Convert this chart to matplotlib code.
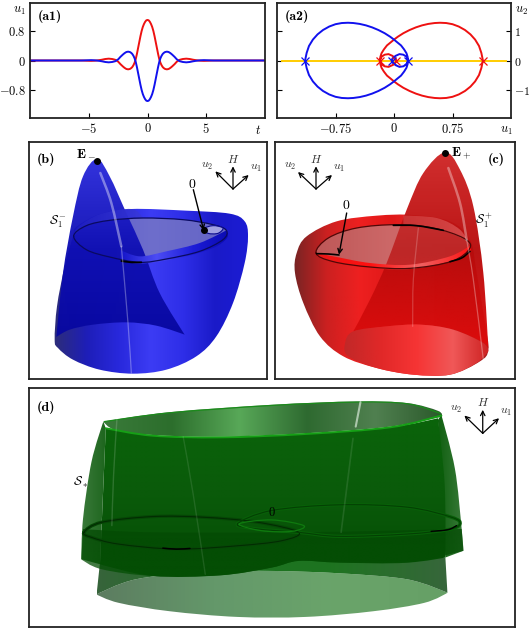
import numpy as np
import matplotlib
matplotlib.use('Agg')
import matplotlib.pyplot as plt
from matplotlib.colors import LinearSegmentedColormap
from matplotlib.path import Path
from matplotlib.patches import PathPatch

plt.rcParams['mathtext.fontset'] = 'cm'
plt.rcParams['font.family'] = 'cmr10'
plt.rcParams['axes.formatter.use_mathtext'] = True

W, H = 531, 628

# (a1) time series
t_right = [0, .1, .2, .3, .4, .5, .6, .7, .8, .9, 1.0, 1.1, 1.2, 1.3, 1.4, 1.5, 1.65, 1.8, 1.95, 2.1, 2.3, 2.5,
           2.75, 3.0, 3.3, 3.6, 3.9, 4.2, 4.5, 4.8, 5.2, 5.6, 10]
red_right = [1.10, 1.09, 1.05, .99, .91, .80, .66, .50, .34, .18, .04, -.06, -.13, -.18, -.21, -.23, -.24, -.23,
             -.20, -.16, -.10, -.03, .02, .04, .05, .04, .02, .005, -.005, -.01, -.005, 0, 0]
t = [-v for v in t_right[:0:-1]] + t_right
red_u1 = red_right[:0:-1] + red_right
blue_u1 = [-v for v in red_u1]

# (a2) phase plane, blue orbit; the red one is its mirror image
blue_x = [.18, .175, .16, .13, .09, .04, 0, -.05, -.12, -.20, -.28, -.36, -.44, -.52, -.59, -.67, -.75, -.83, -.91, -.98, -1.04,
          -1.09, -1.12, -1.14, -1.12, -1.09, -1.04, -.98, -.91, -.83, -.75, -.67, -.59, -.52, -.44, -.36, -.28, -.20, -.12,
          -.05, 0, .04, .09, .13, .16, .175, .18, .16, .12, .07, .02, -.02, -.03, -.02, .02, .07, .12, .16, .18]
blue_y = [0, .12, .25, .38, .52, .63, .72, .82, .94, 1.05, 1.14, 1.21, 1.26, 1.29, 1.30, 1.29, 1.25, 1.17, 1.05, .90, .72,
          .50, .26, 0, -.26, -.50, -.72, -.90, -1.05, -1.17, -1.25, -1.29, -1.30, -1.29, -1.26, -1.21, -1.14, -1.05, -.94,
          -.82, -.72, -.63, -.52, -.38, -.25, -.12, 0, -.13, -.20, -.22, -.16, -.07, 0, .07, .16, .22, .20, .13, 0]
red_x = [-v for v in blue_x]
red_y = blue_y
axis_x = [-1.44, 1.44]
axis_y = [0, 0]
blue_marks_x = [-1.14, -.03, .18]
red_marks_x = [1.14, .03, -.18]

# outlines of the 3D renderings; a third item marks a sharp corner
b_bowl = [(230, 262), (300, 224), (395, 208), (560, 213), (690, 222), (735, 245), (745, 290), (735, 370), (700, 490), (650, 590), (590, 650),
          (500, 690), (400, 702), (300, 690), (220, 660), (175, 625), (165, 600), (172, 500), (195, 380), (220, 290)]
b_peak = [(170, 592, 1), (190, 400), (220, 230), (250, 110), (292, 58), (330, 110), (380, 220), (430, 330), (480, 460), (555, 585, 1),
          (470, 558), (380, 548), (280, 555), (210, 570)]
b_disc = [(222, 290), (260, 258), (330, 242), (430, 235), (550, 240), (640, 255), (680, 272), (670, 295), (600, 325), (500, 350),
          (420, 365), (330, 350), (260, 330)]
b_back = [(222, 290, 1), (235, 262), (300, 224), (395, 208), (430, 235, 1), (330, 242), (260, 258)]
b_front = [(360, 330, 1), (420, 350), (500, 335), (600, 310), (680, 272, 1), (682, 295), (640, 325), (540, 355), (420, 372), (362, 360, 1)]
b_ring = [(222, 290), (260, 258), (330, 242), (430, 235), (550, 240), (640, 255), (680, 272), (670, 300), (600, 335), (500, 358),
          (420, 368), (330, 352), (260, 330)]
b_pocket = [(610, 268), (640, 258), (670, 265), (655, 281), (625, 281)]

c_bowl = [(80, 340), (110, 290), (200, 245), (320, 228), (430, 226), (540, 245), (600, 300), (620, 400), (645, 550), (655, 630), (630, 665),
          (540, 705), (430, 705), (320, 685), (220, 650), (150, 590), (100, 490), (75, 400)]
c_peak = [(250, 575, 1), (300, 480), (350, 370), (410, 210), (460, 100), (525, 38), (570, 90), (610, 200), (640, 400), (655, 630, 1),
          (640, 610), (550, 570), (450, 555), (350, 560)]
c_base = [(225, 612), (250, 575), (350, 560), (450, 555), (550, 570), (640, 610), (655, 635, 1), (620, 670), (540, 705), (430, 705),
          (320, 685), (235, 650)]
c_disc = [(140, 340), (175, 295), (260, 265), (380, 255), (490, 265), (580, 295), (595, 325), (540, 355), (420, 380), (300, 375), (200, 360)]
c_back = [(400, 228, 1), (500, 235), (570, 270), (600, 320, 1), (575, 295), (490, 265), (400, 255, 1)]
c_front = [(140, 340, 1), (200, 352), (300, 370), (420, 375), (540, 350), (600, 318, 1), (598, 340), (540, 365), (420, 388), (300, 385), (190, 368), (140, 350, 1)]
c_ring = [(138, 340), (175, 295), (260, 265), (380, 255), (490, 265), (580, 295), (600, 325), (545, 365), (420, 386), (300, 382), (190, 366)]

d_base = [(285, 625, 1), (400, 580), (600, 558), (800, 555), (1000, 562), (1200, 580), (1318, 620, 1), (1250, 650), (1100, 675), (900, 692),
          (700, 692), (500, 675), (350, 650)]
d_back = [(305, 110, 1), (500, 82), (800, 60), (1050, 50), (1200, 55), (1290, 78), (1302, 95, 1), (1150, 125), (900, 145), (650, 155), (450, 150), (340, 135)]
d_left = [(305, 110, 1), (312, 130, 1), (295, 535, 1), (240, 520, 1), (245, 400), (270, 230)]
d_right = [(1300, 90, 1), (1340, 250), (1360, 430), (1365, 495, 1), (1312, 515, 1), (1290, 105, 1)]
d_front = [(312, 130, 1), (450, 152), (650, 157), (900, 147), (1150, 127), (1290, 100, 1), (1310, 300), (1312, 515, 1), (1200, 530), (1000, 530),
           (880, 525), (800, 545), (650, 568), (450, 570), (295, 535, 1), (305, 300)]
d_skirt = [(295, 530, 1), (1312, 515, 1), (1318, 620, 1), (1200, 580), (1000, 562), (800, 555), (600, 558), (400, 580), (285, 625, 1)]
d_lobe = [(240, 520, 1), (245, 430, 1), (450, 440), (880, 440), (1360, 430, 1), (1365, 495, 1), (1200, 530), (1000, 530), (880, 525), (800, 545),
          (650, 568), (450, 570), (300, 550)]
d_ring_l = [(248, 440), (300, 410), (450, 393), (600, 395), (760, 410), (880, 440), (830, 465), (700, 480), (520, 490), (350, 475), (270, 455)]
d_ring_r = [(700, 415), (800, 375), (1000, 358), (1200, 365), (1330, 395), (1355, 415), (1320, 432), (1200, 445), (1000, 452), (880, 440), (760, 430)]
d_ring_c = [(705, 415), (800, 403), (895, 420), (860, 437), (770, 435)]


def make_path(pts, closed=True):
    # Catmull-Rom outline turned into cubic bezier pieces, flat tangents at flagged corners
    p = np.array([q[:2] for q in pts], float)
    sharp = [len(q) == 3 for q in pts]
    n = len(p)
    verts, codes = [p[0]], [Path.MOVETO]
    for i in range(n if closed else n - 1):
        j, k = (i + 1) % n, (i + 2) % n
        p0 = p[(i - 1) % n] if closed or i > 0 else p[i]
        p1, p2 = p[i], p[j]
        p3 = p[k] if closed or i + 2 < n else p2
        c1 = p1 if sharp[i] else p1 + (p2 - p0) / 6
        c2 = p2 if sharp[j] else p2 - (p3 - p1) / 6
        verts += [c1, c2, p2]
        codes += [Path.CURVE4] * 3
    return Path(verts, codes)


def blob(ax, pts, color, alpha=1, z=1):
    ax.add_patch(PathPatch(make_path(pts), fc=color, ec='none', alpha=alpha, zorder=z))


def grad(ax, pts, stops, alpha=1, z=1, vertical=False):
    path = make_path(pts)
    patch = PathPatch(path, fc='none', ec='none', transform=ax.transData)
    ax.add_patch(patch)
    x0, y0 = path.vertices.min(axis=0)
    x1, y1 = path.vertices.max(axis=0)
    g = np.linspace(0, 1, 256)
    g = g[:, None] if vertical else g[None, :]
    cmap = LinearSegmentedColormap.from_list('g', stops)
    im = ax.imshow(g, extent=(x0, x1, y1, y0), cmap=cmap, aspect='auto', alpha=alpha, zorder=z, interpolation='bilinear')
    im.set_clip_path(patch)


def line(ax, pts, color, lw=1, alpha=1, z=5, closed=False):
    ax.add_patch(PathPatch(make_path(pts, closed), fc='none', ec=color, lw=lw, alpha=alpha, zorder=z, capstyle='round'))


def compass(ax, cx, cy, tips, labels):
    for (x, y) in tips:
        ax.annotate('', xy=(x, y), xytext=(cx, cy), zorder=9,
                    arrowprops=dict(arrowstyle='->', lw=0.9, color='k', mutation_scale=8, shrinkA=0, shrinkB=0))
    for (x, y, s) in labels:
        ax.text(x, y, s, ha='center', va='center', fontsize=8.5, color='#333333', zorder=9)


def panel(x0, y0, x1, y1, xlim, ylim):
    ax = fig.add_axes([x0 / W, 1 - y1 / H, (x1 - x0) / W, (y1 - y0) / H])
    ax.set_xticks([])
    ax.set_yticks([])
    for s in ax.spines.values():
        s.set_linewidth(1.3)
        s.set_color('#222222')
    ax._lims = (xlim, ylim)
    return ax


def finish(ax):
    ax.set_xlim(*ax._lims[0])
    ax.set_ylim(*ax._lims[1])


def tag(ax, x, y, s):
    ax.text(x, y, s, family='cmb10', fontsize=10, ha='center', va='center', zorder=9)


fig = plt.figure(figsize=(W / 100, H / 100), dpi=100)

# ---- a1
ax = panel(30, 3, 265, 118, (-10, 10), (-1.56, 1.56))
ax.plot(t, red_u1, color='#ee1111', lw=1.4)
ax.plot(t, blue_u1, color='#1111ee', lw=1.4)
ax.set_xticks([-5, 0, 5], [r'$-5$', r'$0$', r'$5$'], fontsize=9)
ax.set_yticks([-.8, 0, .8], [r'$-0.8$', r'$0$', r'$0.8$'], fontsize=9)
ax.tick_params(direction='in', length=3.5, width=0.8, pad=3)
tag(ax, -8.3, 1.2, '(a1)')
fig.text(19 / W, 1 - 11 / H, r'$u_1$', fontsize=9, ha='center', va='center')
fig.text(258 / W, 1 - 131 / H, r'$t$', fontsize=9, ha='center', va='center')
finish(ax)

# ---- a2
ax = panel(277, 3, 511, 118, (-1.5, 1.5), (-1.98, 1.98))
ax.plot(axis_x, axis_y, color='#ffcc00', lw=1.4)
ax.plot(red_x, red_y, color='#ee1111', lw=1.4)
ax.plot(blue_x, blue_y, color='#1111ee', lw=1.4)
ax.plot(red_marks_x, [0] * 3, 'x', color='#ee1111', ms=5.5, mew=0.9)
ax.plot(blue_marks_x, [0] * 3, 'x', color='#1111ee', ms=5.5, mew=0.9)
ax.set_xticks([-.75, 0, .75], [r'$-0.75$', r'$0$', r'$0.75$'], fontsize=9)
ax.set_yticks([-1, 0, 1], [r'$-1$', r'$0$', r'$1$'], fontsize=8.5)
ax.tick_params(direction='in', length=3.5, width=0.8, pad=3)
ax.tick_params(axis='y', left=True, right=True, labelleft=False, labelright=True, pad=2)
tag(ax, -1.24, 1.51, '(a2)')
fig.text(522 / W, 1 - 11 / H, r'$u_2$', fontsize=9, ha='center', va='center')
fig.text(506 / W, 1 - 131 / H, r'$u_1$', fontsize=9, ha='center', va='center')
finish(ax)

# ---- b
ax = panel(29, 142, 267, 379, (88, 802), (718, 7))
grad(ax, b_bowl, ['#2d2d78', '#1e1eb8', '#2828dc', '#3c3cf4', '#2e2ee8', '#1a1ac8', '#1c1cd4'], z=1)
grad(ax, b_disc, ['#5a5ac8', '#6e6ecc', '#6464c4'], z=2)
grad(ax, b_peak, ['#2c2cdc', '#1010b4', '#0808a0'], alpha=.97, z=3, vertical=True)
grad(ax, b_back, ['#2020c0', '#3a3ad8'], alpha=.8, z=4)
grad(ax, b_front, ['#1414c8', '#4c4cf4', '#1c1cd8', '#0a0ab0'], z=4)
line(ax, b_ring, '#0a0a60', lw=0.9, z=5, closed=True)
line(ax, [(365, 364), (395, 368), (425, 368)], 'k', lw=1.3, z=5)
line(ax, [(302, 100), (335, 190), (365, 320)], 'white', lw=1.8, alpha=.4, z=6)
line(ax, [(365, 320), (385, 550), (395, 700)], 'white', lw=0.9, alpha=.3, z=6)
blob(ax, b_pocket, '#c8c8f4', alpha=.6, z=5)
line(ax, b_pocket, '#0a0a90', lw=0.8, z=5, closed=True)
ax.plot([292, 612], [63, 272], 'o', color='k', ms=4, zorder=8)
ax.annotate('', xy=(612, 272), xytext=(581, 150), zorder=9, arrowprops=dict(arrowstyle='->', lw=1, color='k', mutation_scale=8, shrinkA=0, shrinkB=0))
ax.text(578, 133, r'$\mathbf{0}$', fontsize=10, ha='center', va='center', zorder=9)
ax.text(260, 40, r'$\mathbf{E}_-$', fontsize=10, ha='center', va='center', zorder=9)
ax.text(175, 248, r'$\mathcal{S}_1^-$', fontsize=9, ha='center', va='center', zorder=9)
tag(ax, 138, 60, '(b)')
compass(ax, 700, 148, [(700, 80), (747, 106), (647, 95)], [(700, 58, r'$H$'), (768, 86, r'$u_1$'), (622, 80, r'$u_2$')])
finish(ax)

# ---- c
ax = panel(275, 142, 515, 379, (15, 735), (718, 7))
grad(ax, c_bowl, ['#782424', '#cc2020', '#ee2020', '#e01818', '#e83030', '#b81818', '#a82020'], z=1)
grad(ax, c_disc, ['#b85050', '#cc6666', '#c86060'], z=2)
grad(ax, c_peak, ['#d02828', '#b80c0c', '#e00c0c'], alpha=.97, z=3, vertical=True)
blob(ax, c_disc, '#d07070', alpha=.25, z=3.2)
grad(ax, c_base, ['#c02828', '#e02828', '#f63434', '#f05858', '#cc2020'], z=4)
grad(ax, c_back, ['#d04040', '#e06060'], alpha=.7, z=4)
grad(ax, c_front, ['#e81818', '#ff1010', '#f06060', '#ff1010'], z=4)
line(ax, c_ring, '#500808', lw=0.9, z=5, closed=True)
line(ax, [(370, 257), (440, 258), (520, 272)], 'k', lw=1.2, z=5)
line(ax, [(540, 366), (575, 355), (600, 335)], 'k', lw=1.2, z=5)
line(ax, [(140, 342), (175, 343), (207, 346)], 'k', lw=1.2, z=5)
line(ax, [(535, 85), (570, 190), (590, 300)], 'white', lw=1.8, alpha=.35, z=6)
line(ax, [(590, 300), (610, 420), (640, 660)], 'white', lw=0.9, alpha=.3, z=6)
line(ax, [(445, 265), (430, 420), (428, 560)], 'white', lw=0.9, alpha=.2, z=6)
ax.plot([525], [40], 'o', color='k', ms=4, zorder=8)
ax.annotate('', xy=(207, 345), xytext=(230, 220), zorder=9, arrowprops=dict(arrowstyle='->', lw=1, color='k', mutation_scale=8, shrinkA=0, shrinkB=0))
ax.text(229, 197, r'$\mathbf{0}$', fontsize=10, ha='center', va='center', zorder=9)
ax.text(575, 42, r'$\mathbf{E}_+$', fontsize=10, ha='center', va='center', zorder=9)
ax.text(642, 245, r'$\mathcal{S}_1^+$', fontsize=9, ha='center', va='center', zorder=9)
tag(ax, 680, 60, '(c)')
compass(ax, 138, 148, [(138, 80), (186, 106), (84, 97)], [(138, 58, r'$H$'), (207, 85, r'$u_1$'), (60, 80, r'$u_2$')])
finish(ax)

# ---- d
ax = panel(29, 388, 515, 627, (86, 1517), (722, 10))
grad(ax, d_base, ['#5c7c60', '#64986a', '#6aa46a', '#66a066'], z=1)
grad(ax, d_skirt, ['#2c5c30', '#106a14', '#126c14', '#2c5e30'], alpha=.95, z=2)
grad(ax, d_back, ['#3a7a3a', '#2c6e2c', '#58a858', '#2e6a30', '#508050', '#2a582a'], z=2)
grad(ax, d_left, ['#3a7a3a', '#1e661e'], z=3)
grad(ax, d_right, ['#106010', '#3a7a3a'], z=3)
grad(ax, d_front, ['#0a640a', '#0a5a0a', '#044c04'], z=4, vertical=True)
grad(ax, d_lobe, ['#044a04', '#045004'], alpha=.75, z=5, vertical=True)
line(ax, d_ring_l, '#064806', lw=2.4, z=6, closed=True)
line(ax, d_ring_r, '#086008', lw=2.4, z=6, closed=True)
line(ax, d_ring_l, '#022c02', lw=0.8, z=6, closed=True)
line(ax, d_ring_r, '#034003', lw=0.8, z=6, closed=True)
line(ax, d_ring_c, '#0f7a0f', lw=0.9, z=6, closed=True)
line(ax, [(480, 487), (520, 490), (560, 488)], 'k', lw=1.1, z=7)
line(ax, [(1270, 437), (1320, 432), (1345, 420)], 'k', lw=1, z=7)
line(ax, [(312, 130), (450, 152), (650, 157), (900, 147), (1150, 127), (1300, 92)], '#16a016', lw=1.4, z=7)
line(ax, [(308, 110), (500, 84), (800, 62), (1050, 52), (1200, 57), (1296, 85)], '#1c8a1c', lw=0.9, z=7)
line(ax, [(1062, 52), (1048, 125)], '#d8e8d8', lw=1.5, alpha=.7, z=7)
line(ax, [(1040, 160), (1005, 440)], 'white', lw=1.2, alpha=.1, z=7)
line(ax, [(345, 100), (335, 270), (330, 420)], 'white', lw=1.0, alpha=.15, z=7)
line(ax, [(540, 155), (570, 330), (605, 565)], 'white', lw=1.0, alpha=.1, z=7)
ax.text(800, 382, r'$\mathbf{0}$', fontsize=9, ha='center', va='center', zorder=9)
ax.text(238, 290, r'$\mathcal{S}_*$', fontsize=9, ha='center', va='center', zorder=9)
tag(ax, 135, 68, '(d)')
compass(ax, 1422, 145, [(1422, 75), (1470, 100), (1368, 92)], [(1422, 52, r'$H$'), (1490, 82, r'$u_1$'), (1345, 75, r'$u_2$')])
finish(ax)

fig.savefig('out.png', dpi=100)
